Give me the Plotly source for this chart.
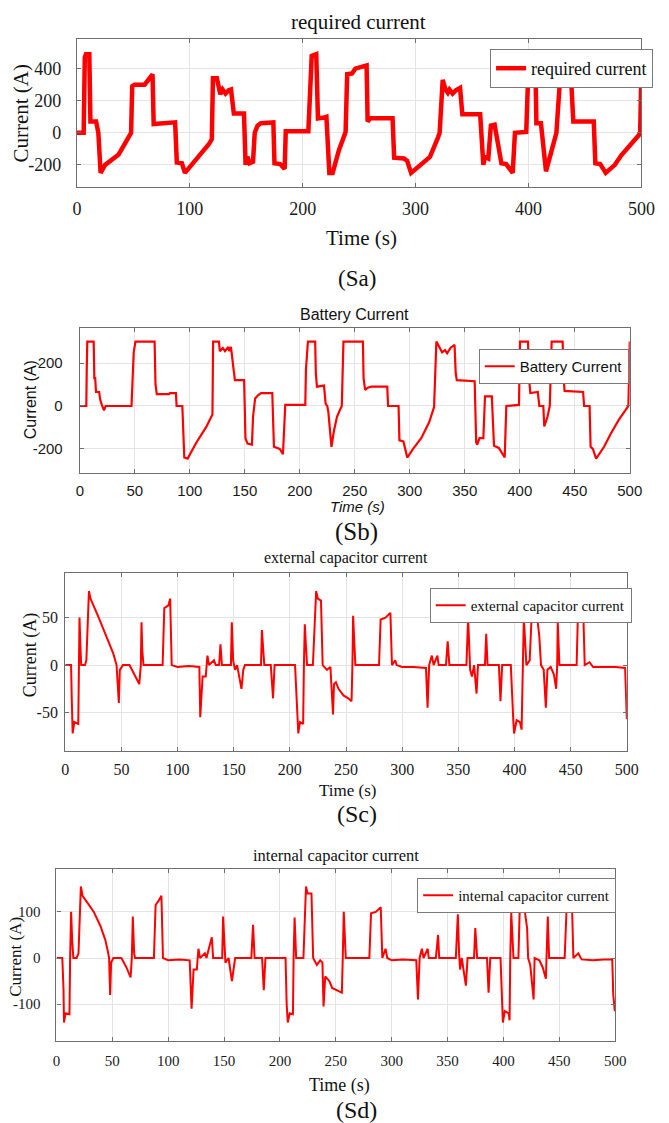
import plotly.graph_objects as go

W, H = 669, 1123

# ---------------- data ----------------
# (Sa) required current
t_req = [0, 6, 7, 8, 11, 12, 17, 19, 21, 25, 37, 45, 48, 49, 51, 60, 67, 68, 75, 87, 88.5, 93, 95.7, 103, 117,
         119.5, 120.5, 124, 127, 129, 131.6, 134.5, 136.5, 139, 148, 149.4, 151, 153, 156, 157.5, 160, 163, 174,
         175, 180, 184, 185, 205, 208, 212, 213.5, 219, 221, 223.6, 226.5, 232, 238, 239.4, 243.7, 246.6, 252.3,
         256.6, 257.5, 260, 279.6, 281, 289.7, 292.5, 296, 304, 312.7, 319.8, 321.3, 324, 326.5, 328.5, 330,
         332.8, 335.6, 339.4, 341.4, 357.2, 360, 361.5, 364.4, 366.7, 370, 376, 380.2, 386, 388, 398, 400.3,
         406, 407, 411, 415.5, 424.7, 427.6, 434.8, 437.7, 439.7, 457.8, 459.2, 463.5, 468.4, 476.5, 482.2,
         490.8, 498.9, 500]
i_req = [0, 0, 470, 490, 490, 70, 70, 0, -250, -200, -135, -30, 0, 290, 300, 300, 365, 55, 60, 65, -185, -190,
         -250, -190, -70, -40, 340, 340, 240, 270, 245, 265, 270, 120, 120, -200, -150, -190, -180, 0, 45, 60, 65,
         -190, -195, -225, 10, 10, 480, 490, 90, 95, 100, -250, -250, -110, 5, 365, 370, 400, 410, 420, 70, 90,
         90, -155, -160, -175, -250, -200, -150, -30, 0, 330, 270, 250, 270, 245, 265, 280, 115, 115, -200, -150,
         -160, 45, 50, -190, -195, -250, 0, 5, 480, 480, 60, 60, -240, 0, 300, 310, 340, 70, 70, -190, -195,
         -250, -200, -140, -70, -5, 390]

# (Sb) battery current
t_bat = [0, 5.9, 6.3, 6.8, 12.6, 13.2, 14, 14.7, 17.6, 18.5, 20, 22, 23.5, 47, 47.8, 49, 50.6, 68, 68.8, 70,
         81, 82, 87.4, 88, 93.2, 95, 98, 106, 114.7, 120.6, 121.2, 126.5, 127.3, 130, 132, 135, 136, 137.4,
         139.7, 141, 149.4, 150.6, 152.5, 156.5, 157.5, 159.4, 162, 164.7, 175, 176.5, 181.8, 184.7, 186.8, 205,
         205.6, 207.4, 214, 214.6, 215.6, 222, 223.5, 225, 226, 228.8, 230.9, 233.8, 236.8, 238.2, 239.7, 257.4,
         258, 259.4, 261.8, 265, 279.5, 280.3, 289.8, 290.6, 294.2, 297.7, 303, 310.4, 317.7, 322.1, 324.2,
         326.5, 329.4, 332, 334, 337, 340.7, 341.8, 342.8, 359, 360.4, 361.3, 363.4, 366.9, 368.4, 374.6, 376.6,
         381, 386.3, 387.8, 399.3, 400.2, 407.5, 408.4, 409.6, 416.4, 417.8, 421.4, 422.3, 425.2, 427.3, 429,
         439, 439.8, 440.8, 457.6, 458.5, 463.5, 464.4, 466.5, 469.4, 476.7, 482.6, 490, 498.8, 500]
i_bat = [0, 0, 170, 300, 300, 130, 130, 65, 65, 30, 5, -20, 0, 0, 100, 250, 300, 300, 100, 55, 55, 60, 60, 0, 0,
         -240, -245, -170, -100, -40, 300, 300, 255, 270, 255, 275, 255, 275, 175, 120, 120, -150, -175, -180,
         -50, 35, 50, 60, 60, -190, -200, -225, 5, 5, 170, 300, 300, 150, 90, 95, 10, 0, -30, -190, -120, -50,
         -15, 0, 300, 300, 130, 75, 85, 90, 90, 0, 0, -160, -165, -240, -200, -150, -75, -5, 300, 275, 250, 260,
         245, 270, 285, 150, 120, 115, -170, -180, -150, -150, 45, 45, -185, -195, -240, 0, 5, 300, 300, 130, 60,
         65, 0, 0, -95, -50, 0, 300, 300, 130, 70, 65, 0, 0, -190, -200, -245, -190, -130, -65, 0, 300]

# (Sc) external capacitor current
t_ext = [0, 5.2, 5.8, 6.6, 8.1, 11.6, 12.2, 12.7, 13.5, 14.2, 17.6, 18.8, 21.1, 22.5, 29.8, 38.4, 42.8, 45.7,
         47.7, 48.6, 51.4, 57.2, 61.6, 65.9, 67.3, 67.9, 68.6, 69.7, 86.7, 88.2, 91.9, 93.4, 94.8, 100, 110,
         119.4, 120.2, 122.3, 125.1, 126.6, 128, 132.4, 134, 137, 138.2, 139.5, 147.5, 148.3, 149.5, 151.2, 153,
         156.9, 158.5, 160, 174.3, 175.1, 177.2, 183, 185, 186.4, 204.6, 206, 207.5, 209, 211.8, 212.5, 213.3,
         214.3, 215.3, 220.5, 223.4, 224.9, 227.7, 229.2, 233, 236.1, 238.4, 239.3, 241, 243.3, 247.7, 252,
         254.9, 255.7, 256.3, 258.3, 279.4, 280.8, 285.1, 289.5, 290.9, 293.8, 295, 300, 310, 321.2, 322.6, 324,
         326.4, 328, 331.3, 332.5, 339, 340.5, 342, 357.2, 358.7, 360.5, 362.1, 364, 366.2, 367.5, 373.7, 374.8,
         376, 386.1, 387.5, 389, 396.7, 399, 399.6, 401.9, 404.8, 406.3, 407.2, 408.3, 410.6, 413.5, 415.5,
         417.8, 420.7, 422.1, 423.6, 426, 427.9, 429.3, 432.2, 435.1, 437.1, 438, 438.5, 440, 455.3, 456.7, 461,
         462.5, 466.8, 470, 480, 490, 498.5, 499.3, 500]
i_ext = [0, 0, -35, -72, -60, -62, 0, 50, 20, 0, 0, 5, 78, 70, 50, 25, 12, 0, -40, -5, 0, 0, -10, -20, 0, 45, 15,
         0, 0, 60, 63, 70, 0, -2, -1, -2, -55, -12, -12, 10, 0, 5, 0, 0, 22, 0, 0, 45, 5, -5, 0, -25, -5, 0, 0,
         37, 0, 0, -35, 0, 0, -45, -72, -60, -62, 0, 43, 20, 0, 0, 78, 70, 68, 0, -5, -2, -52, -20, -18, -25,
         -32, -35, -38, 0, 52, 0, 0, 48, 50, 55, 0, 5, 0, -2, -2, -3, -45, 0, 10, 0, 10, 0, 0, 25, 0, 0, 50, -5,
         -12, 0, -30, 0, 0, 33, 0, 0, -38, 0, 0, -60, -72, -58, -60, -68, 0, 50, 0, 5, 58, 60, 45, 30, 0, -5,
         -45, -5, -2, -10, -25, 0, 45, 0, 0, 65, 65, 0, 3, -2, -2, -2, -3, -35, -57]

# (Sd) internal capacitor current
t_int = [0, 5.2, 6.3, 6.7, 8.1, 11.6, 12.2, 13.1, 14, 15.1, 18, 19.7, 21.8, 23.3, 27.6, 33.4, 39.2, 43.6, 45.9,
         47.1, 48, 48.9, 50.9, 58.1, 62.5, 66.3, 67.4, 68.3, 69.5, 70.3, 87.2, 88.7, 91.6, 93.9, 95.3, 100, 110,
         119.2, 120.9, 122.7, 125.6, 127, 128.5, 132.8, 134.2, 139, 140.2, 148.3, 149.1, 151.2, 154, 157, 159.9,
         174.4, 175.9, 177.3, 184, 185.5, 187, 205, 206, 207, 208.7, 211.6, 212.2, 213.1, 214.5, 221, 223.3,
         224.7, 228.2, 229.7, 233, 236, 238, 239, 240.5, 244.2, 246.7, 251, 255.4, 256.2, 257.1, 258.9, 280,
         281.5, 285.8, 290.2, 291.6, 294.5, 296, 300, 310, 322, 323.5, 325, 327, 328.5, 332.2, 333.2, 339.5,
         341.5, 342.5, 357.4, 359.2, 360.3, 361.2, 362.7, 366.4, 367.9, 373.7, 374.8, 376.5, 385.3, 386.7, 388.2,
         397.4, 399.5, 401.2, 404.7, 405.5, 406.1, 407, 409, 413.4, 414.8, 416.3, 419.2, 421.2, 422.1, 424, 427,
         427.9, 432.2, 435.1, 438, 438.6, 439.7, 440.9, 454.8, 456.8, 461.2, 462.6, 467, 470, 480, 490, 497.4,
         498.3, 499.7]
i_int = [0, 0, -70, -140, -120, -122, 0, 100, 40, 0, 0, 10, 155, 135, 120, 100, 70, 40, 15, 0, -80, -10, 0, 0,
         -20, -42, 0, 90, 10, 0, 0, 115, 125, 135, 0, -5, -3, -5, -110, -25, -25, 20, 0, 10, 0, 45, 0, 0, 90, -10,
         0, -50, 0, 0, 72, 0, 0, -70, 0, 0, -100, -140, -120, -122, 0, 88, 0, 0, 155, 140, 140, 0, -15, -5, -10,
         -105, -40, -50, -65, -70, -75, 0, 100, 0, 0, 97, 100, 110, 0, 20, 0, -5, -3, -5, -90, 0, 20, 0, 20, 0,
         0, 50, 0, 0, 95, 10, -25, 0, -60, 0, 0, 65, 0, 0, -75, 0, 0, -140, -115, -120, -135, 0, 98, 0, 0, 125,
         130, 100, 65, 0, -15, -90, 0, -5, -20, -45, 0, 90, 0, 0, 125, 130, 0, 10, -3, -5, -3, -3, -80, -115]

# tick values / labels
ytick_a = [-200, 0, 200, 400]
ytick_b = [-200, 0, 200]
ytick_c = [-50, 0, 50]
ytick_d = [-100, 0, 100]
xtick_a = [0, 100, 200, 300, 400, 500]
xtick_bcd = [0, 50, 100, 150, 200, 250, 300, 350, 400, 450, 500]

# ---------------- layout helpers ----------------
SERIF = "Liberation Serif, Times New Roman, serif"
SANS = "Liberation Sans, Arial, sans-serif"
AXC = "#6f6f6f"
GRID = "#e4e4e4"


def px_x(p):
    return p / W


def px_y(p):
    return 1 - p / H


def lab(v):
    return [str(x) for x in v]  # ASCII hyphen for negatives, as in the reference


panels = [
    dict(n="", xd=(74, 655), yd=(39, 187), yr=[-338, 585], xt=xtick_a, yt=ytick_a, fam=SERIF, ts=18, sx=5, sy=11),
    dict(n="2", xd=(77, 643), yd=(328, 473), yr=[-312, 363], xt=xtick_bcd, yt=ytick_b, fam=SANS, ts=15, sx=4, sy=13),
    dict(n="3", xd=(62, 640), yd=(573, 751), yr=[-90.5, 97], xt=xtick_bcd, yt=ytick_c, fam=SERIF, ts=16, sx=4, sy=3),
    dict(n="4", xd=(53, 628), yd=(869, 1041), yr=[-180, 193], xt=xtick_bcd, yt=ytick_d, fam=SERIF, ts=15, sx=6, sy=12),
]

series = [
    (t_req, i_req, "required current", 4.5),
    (t_bat, i_bat, "Battery Current", 2.2),
    (t_ext, i_ext, "external capacitor current", 2.0),
    (t_int, i_int, "internal capacitor current", 2.0),
]

legend_pos = [
    dict(r=667, t=49, fam=SERIF, fs=18),
    dict(r=642, t=349, fam=SANS, fs=15),
    dict(r=645, t=588, fam=SERIF, fs=15),
    dict(r=629, t=878, fam=SERIF, fs=15),
]

fig = go.Figure()
layout = dict(width=W, height=H, margin=dict(l=0, r=0, t=0, b=0), autosize=False,
              paper_bgcolor="white", plot_bgcolor="white", showlegend=True)

for k, (p, s, lg) in enumerate(zip(panels, series, legend_pos)):
    n = p["n"]
    legname = "legend" if k == 0 else f"legend{k+1}"
    fig.add_trace(go.Scatter(x=s[0], y=s[1], mode="lines", name=s[2],
                             line=dict(color="#ff0000", width=s[3]),
                             xaxis="x" + n, yaxis="y" + n, legend=legname))
    common = dict(showline=True, mirror="ticks", linecolor=AXC, linewidth=1.2,
                  ticks="inside", ticklen=4, tickcolor=AXC, showgrid=True, gridcolor=GRID,
                  gridwidth=1, zeroline=False, tickmode="array",
                  tickfont=dict(family=p["fam"], size=p["ts"], color="#1a1a1a"))
    layout["xaxis" + n] = dict(domain=[px_x(p["xd"][0]), px_x(p["xd"][1])], anchor="y" + n,
                               range=[0, 500], tickvals=p["xt"], ticktext=lab(p["xt"]),
                               ticklabelstandoff=p["sx"], **common)
    layout["yaxis" + n] = dict(domain=[px_y(p["yd"][1]), px_y(p["yd"][0])], anchor="x" + n,
                               range=p["yr"], tickvals=p["yt"], ticktext=lab(p["yt"]),
                               ticklabelstandoff=p["sy"], **common)
    layout[legname] = dict(x=px_x(lg["r"]), xanchor="right", y=px_y(lg["t"]), yanchor="top",
                           bgcolor="white", bordercolor="#7a7a7a", borderwidth=1,
                           font=dict(family=lg["fam"], size=lg["fs"], color="#111"),
                           itemwidth=30, tracegroupgap=0)

annos = []


def txt(x, y, text, size, fam, angle=0, italic=False):
    annos.append(dict(x=px_x(x), y=px_y(y), xref="paper", yref="paper", text=text, showarrow=False,
                      textangle=angle, xanchor="center", yanchor="middle",
                      font=dict(family=fam, size=size, color="#111",
                                style="italic" if italic else "normal")))


# (Sa)
txt(364, 22, "required current", 21, SERIF)
txt(16, 113, "Current (A)", 21, SERIF, -90)
txt(367, 238, "Time (s)", 21, SERIF)
txt(362, 278, "(Sa)", 23, SERIF)
# (Sb)
txt(360, 314, "Battery Current", 16, SANS)
txt(27, 400, "Current (A)", 16, SANS, -90)
txt(363, 507, "Time (s)", 15, SANS, italic=True)
txt(362, 532, "(Sb)", 25, SERIF)
# (Sc)
txt(351, 558, "external capacitor current", 16, SERIF)
txt(26, 655, "Current (A)", 18, SERIF, -90)
txt(353, 790, "Time (s)", 17, SERIF)
txt(362, 814, "(Sc)", 24, SERIF)
# (Sd)
txt(341, 855, "internal capacitor current", 16.5, SERIF)
txt(10, 957, "Current (A)", 17, SERIF, -90)
txt(344, 1085, "Time (s)", 18, SERIF)
txt(362, 1110, "(Sd)", 24, SERIF)

layout["annotations"] = annos
fig.update_layout(**layout)
fig.write_html("out.html")
